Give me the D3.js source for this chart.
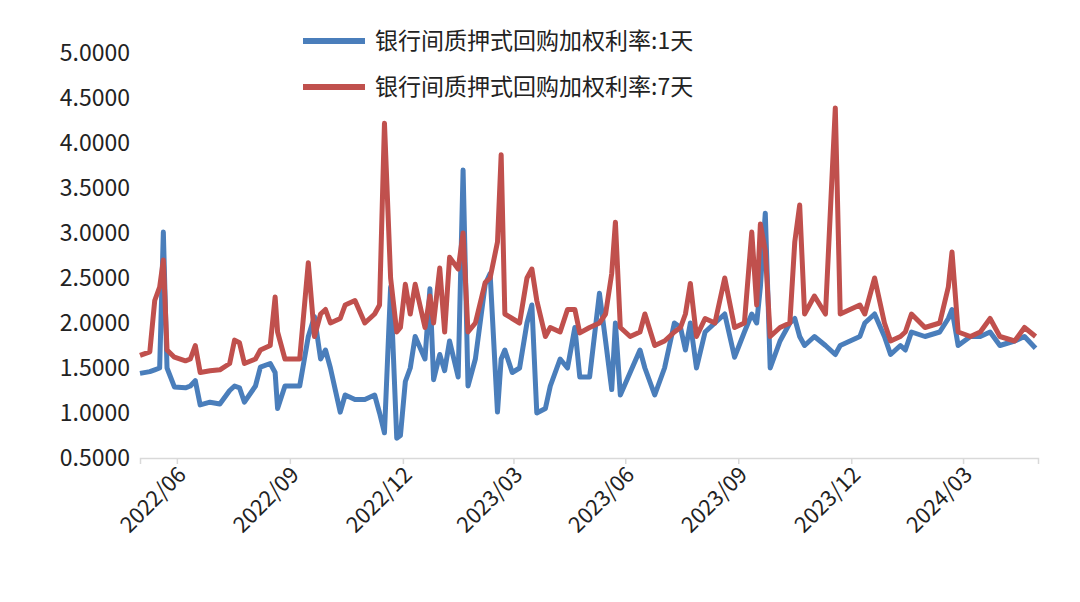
<!DOCTYPE html>
<html>
<head>
<meta charset="utf-8">
<script src="https://cdn.jsdelivr.net/npm/d3@7"></script>
<style>
  body { margin: 0; background: #fff; }
  text { font-family: "Noto Sans CJK SC", "Noto Sans", sans-serif; }
</style>
</head>
<body>
<svg id="chart" width="1080" height="602"></svg>
<script>
// days after 2022-06-01
var dayOffsets = [0,8,12,16,19,22,28,37,41,45,49,57,65,73,77,81,85,94,98,106,110,112,118,130,137,142,147,151,155,163,167,175,183,191,195,199,204,209,212,216,220,224,232,236,239,244,248,252,259,263,267,273,281,285,291,294,297,303,309,315,319,323,330,334,342,348,354,358,366,374,379,384,387,391,399,407,411,419,427,435,440,444,448,453,460,468,476,484,492,498,502,505,509,513,521,529,533,537,541,549,558,566,570,578,586,590,598,606,611,619,623,628,639,651,658,661,666,676,684,692,700,712,720,729];

var rate1d = [1.44,1.46,1.48,1.5,3.01,1.5,1.29,1.28,1.3,1.36,1.09,1.12,1.1,1.25,1.3,1.28,1.12,1.3,1.51,1.55,1.45,1.05,1.3,1.3,1.85,2.07,1.6,1.7,1.5,1.01,1.2,1.15,1.15,1.2,1.0,0.78,2.4,0.72,0.75,1.35,1.5,1.85,1.6,2.38,1.37,1.65,1.47,1.8,1.4,3.7,1.3,1.6,2.43,2.55,1.01,1.6,1.7,1.45,1.5,2.0,2.2,1.0,1.05,1.3,1.6,1.5,1.95,1.4,1.4,2.33,1.8,1.26,2.0,1.2,1.45,1.7,1.5,1.2,1.5,2.0,1.95,1.7,2.0,1.5,1.9,2.0,2.1,1.62,1.9,2.1,2.0,2.4,3.22,1.5,1.8,2.0,2.05,1.85,1.75,1.85,1.75,1.65,1.75,1.8,1.85,2.0,2.1,1.85,1.65,1.75,1.7,1.9,1.85,1.9,2.05,2.15,1.75,1.85,1.85,1.9,1.75,1.8,1.85,1.72];

var rate7d = [1.64,1.68,2.25,2.4,2.7,1.7,1.62,1.58,1.6,1.75,1.45,1.47,1.48,1.55,1.81,1.78,1.55,1.6,1.7,1.75,2.29,1.9,1.6,1.6,2.67,1.85,2.1,2.15,2.0,2.05,2.2,2.25,2.0,2.1,2.2,4.22,2.5,1.9,1.95,2.43,2.1,2.43,1.95,2.3,2.0,2.61,1.9,2.73,2.6,3.0,1.9,2.0,2.45,2.5,2.9,3.87,2.1,2.05,2.0,2.5,2.6,2.25,1.85,1.95,1.9,2.15,2.15,1.89,1.95,2.0,2.1,2.55,3.12,1.95,1.85,1.9,2.1,1.75,1.8,1.9,1.95,2.1,2.44,1.85,2.05,2.0,2.5,1.95,2.0,3.01,2.2,3.1,2.8,1.85,1.95,2.0,2.9,3.31,2.1,2.3,2.1,4.39,2.1,2.15,2.2,2.1,2.5,2.0,1.8,1.85,1.9,2.1,1.95,2.0,2.4,2.79,1.9,1.85,1.9,2.05,1.85,1.8,1.95,1.85];

var seriesNames = ["银行间质押式回购加权利率:1天", "银行间质押式回购加权利率:7天"];
var seriesColors = ["#4a7ebb", "#c0504d"];
var yTicks = [0.5, 1.0, 1.5, 2.0, 2.5, 3.0, 3.5, 4.0, 4.5, 5.0];
var xTickLabels = ["2022/06","2022/09","2022/12","2023/03","2023/06","2023/09","2023/12","2024/03"];

var svg = d3.select("#chart");
var start = new Date(2022, 5, 1);
var dates = dayOffsets.map(d => d3.timeDay.offset(start, d));

var x = d3.scaleTime().domain([start, new Date(2024, 5, 1)]).range([140, 1038]);
var y = d3.scaleLinear().domain([0.5, 5.0]).range([458, 53]);

// x axis
var tickDates = d3.timeMonth.every(3).range(start, new Date(2024, 5, 2));
var xAxis = svg.append("g").attr("transform", "translate(0,458)")
    .call(d3.axisBottom(x).tickValues(tickDates).tickSize(6).tickFormat((d, i) => xTickLabels[i] || ""));
xAxis.select(".domain").attr("stroke", "#d9d9d9").attr("stroke-width", 1.5);
xAxis.selectAll(".tick line").attr("stroke", "#d9d9d9").attr("stroke-width", 1.5);
xAxis.selectAll(".tick text")
    .attr("font-size", 22).attr("fill", "#222")
    .attr("text-anchor", "end")
    .attr("x", 0).attr("y", 0).attr("dy", 0)
    .attr("transform", "translate(10,18) rotate(-45)");

// y axis
var yAxis = svg.append("g").attr("transform", "translate(140,0)")
    .call(d3.axisLeft(y).tickValues(yTicks).tickSize(0).tickPadding(10).tickFormat(d3.format(".4f")));
yAxis.select(".domain").remove();
yAxis.selectAll(".tick text").attr("font-size", 23).attr("fill", "#222");

// lines
var line = d3.line().x((d, i) => x(dates[i])).y(d => y(d));
[rate1d, rate7d].forEach((s, k) => {
    svg.append("path").datum(s)
        .attr("fill", "none")
        .attr("stroke", seriesColors[k])
        .attr("stroke-width", 5)
        .attr("stroke-linejoin", "round")
        .attr("d", line);
});

// legend
seriesNames.forEach((name, k) => {
    var ly = 41 + k * 46;
    svg.append("line").attr("x1", 303).attr("x2", 365).attr("y1", ly).attr("y2", ly)
        .attr("stroke", seriesColors[k]).attr("stroke-width", 6);
    svg.append("text").attr("x", 375).attr("y", ly + 8)
        .attr("font-size", 23).attr("fill", "#222").text(name);
});
</script>
</body>
</html>
